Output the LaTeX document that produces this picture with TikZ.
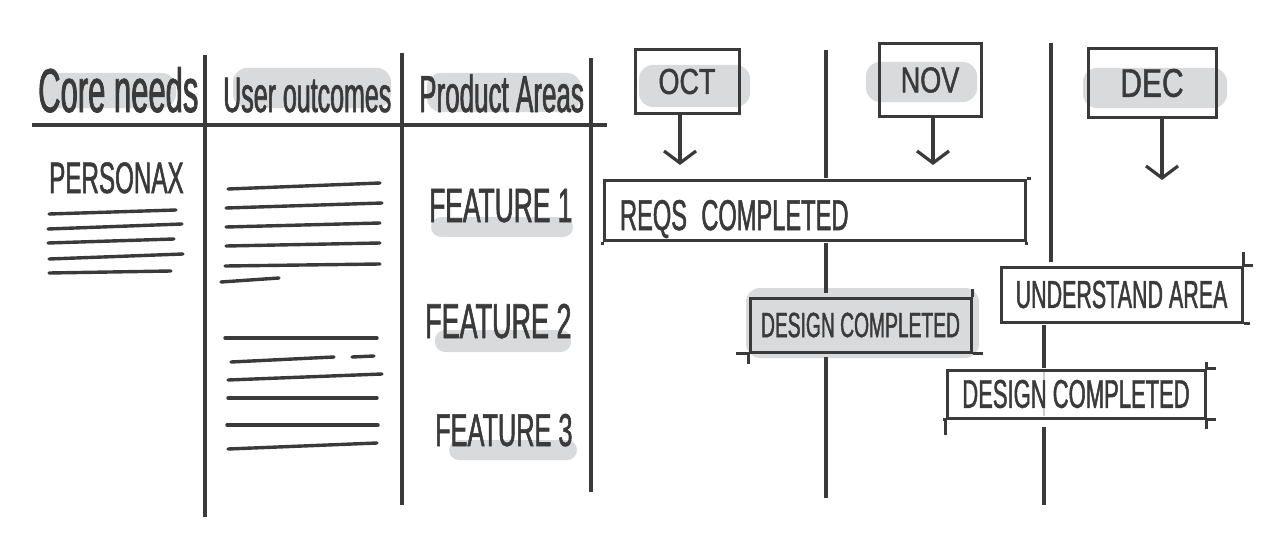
\documentclass[tikz,border=0pt]{standalone}
\usepackage{fontspec}
\usetikzlibrary{arrows.meta}
\newfontfamily\headfont[FakeStretch=0.5,FakeBold=1.2]{Liberation Sans}
\newfontfamily\capsfont[FakeStretch=0.55,FakeBold=1.2]{Liberation Sans}
\newfontfamily\monthfont[FakeStretch=0.75,FakeBold=1.2]{Liberation Sans}
\definecolor{ink}{HTML}{3A3A3A}
\definecolor{markgray}{HTML}{D9DADC}
\begin{document}
\begin{tikzpicture}[x=1pt,y=-1pt,>={Straight Barb[length=12pt,width=32pt]},
  rule/.style={draw=ink,line width=3.2pt},
  scribble/.style={draw=ink,line width=3.4pt,line cap=round},
  boxline/.style={draw=ink,line width=3pt},
  hilite/.style={fill=markgray,rounded corners=14pt},
  headtxt/.style={font=\headfont\fontsize{#1}{#1}\selectfont,text=ink,inner sep=0pt,anchor=base west},
  capstxt/.style={font=\capsfont\fontsize{#1}{#1}\selectfont,text=ink,inner sep=0pt,anchor=base west},
  taskbox/.style={boxline,text=ink,inner sep=0pt,font=\capsfont\fontsize{#1}{#1}\selectfont},
  monthbox/.style={boxline,text=ink,inner sep=0pt,font=\monthfont\fontsize{#1}{#1}\selectfont}]
  \useasboundingbox (0,0) rectangle (1283,543);
  \fill[white] (0,0) rectangle (1283,543);
  \fill[hilite] (42,73) rectangle (176,108);
  \fill[hilite] (233,68) rectangle (391,108);
  \fill[hilite] (427,73) rectangle (581,112);
  \fill[hilite,rounded corners=10pt] (431,217) rectangle (573,237);
  \fill[hilite,rounded corners=10pt] (435,330) rectangle (571,352);
  \fill[hilite,rounded corners=10pt] (449,440) rectangle (577,460);
  \fill[hilite] (639,65) rectangle (750,107);
  \fill[hilite] (866,62) rectangle (977,102);
  \fill[hilite] (1083,68) rectangle (1227,108);
  \fill[hilite] (746,288) rectangle (979,358);
  \draw[rule,line width=4pt] (32,125) -- (607,125);
  \draw[rule] (205,55) -- (205,517);
  \draw[rule] (402,53) -- (402,505);
  \draw[rule] (591,58) -- (591,492);
  \node[headtxt=62] (core) at (38,112) {Core needs};
  \node[headtxt=50] (outcomes) at (223,112) {User outcomes};
  \node[headtxt=52] (areas) at (419,112) {Product Areas};
  \node[capstxt=44] (persona) at (49,193) {PERSONAX};
  \draw[scribble] (49,214) -- (176,210);
  \draw[scribble] (48,229) -- (182,224);
  \draw[scribble] (48,243) -- (174,239);
  \draw[scribble] (49,259) -- (183,254);
  \draw[scribble] (49,273) -- (171,271);
  \draw[scribble] (228,189) -- (380,183);
  \draw[scribble] (226,208) -- (382,203);
  \draw[scribble] (226,227) -- (380,223);
  \draw[scribble] (226,246) -- (380,243);
  \draw[scribble] (225,266) -- (380,264);
  \draw[scribble] (221,282) -- (279,278);
  \draw[scribble] (225,338) -- (377,338);
  \draw[scribble] (231,362) -- (334,357);
  \draw[scribble] (352,357) -- (374,356);
  \draw[scribble] (228,380) -- (382,374);
  \draw[scribble] (228,398) -- (377,398);
  \draw[scribble] (227,425) -- (378,425);
  \draw[scribble] (228,449) -- (377,443);
  \node[capstxt=48] (feat1) at (429,222) {FEATURE 1};
  \node[capstxt=49] (feat2) at (425,338) {FEATURE 2};
  \node[capstxt=46] (feat3) at (435,446) {FEATURE 3};
  \draw[rule] (826,50) -- (826,178);
  \draw[rule] (826,243) -- (826,293);
  \draw[rule] (826,357) -- (826,498);
  \draw[rule] (1051,43) -- (1051,262);
  \draw[rule] (1044,325) -- (1044,368);
  \draw[black!20,line width=1.5pt] (1044,372) -- (1044,416);
  \draw[rule] (1044,427) -- (1044,505);
  \node[monthbox=36,minimum width=104pt,minimum height=63pt] (oct) at (687,81.5) {OCT};
  \node[monthbox=36,minimum width=102pt,minimum height=72pt] (nov) at (930,80) {NOV};
  \node[monthbox=40,minimum width=128pt,minimum height=68pt] (dec) at (1152,83) {DEC};
  \coordinate (octend) at (680,165);
  \coordinate (novend) at (933,165);
  \coordinate (decend) at (1162,180);
  \draw[rule,->] (oct.south -| octend) -- (octend);
  \draw[rule,->] (nov.south -| novend) -- (novend);
  \draw[rule,->] (dec.south -| decend) -- (decend);
  \node[taskbox=43,minimum width=421pt,minimum height=60pt,text width=389pt,align=left,text height=43pt,text depth=3pt] (reqs) at (814.5,210) {REQS COMPLETED};
  \node[taskbox=35,minimum width=221pt,minimum height=54pt] (designA) at (860.5,325) {DESIGN COMPLETED};
  \node[taskbox=39,minimum width=241pt,minimum height=55pt] (area) at (1121.5,294.5) {UNDERSTAND AREA};
  \node[taskbox=40,minimum width=258pt,minimum height=48pt] (designB) at (1076,394) {DESIGN COMPLETED};
  \draw[boxline] (reqs.north east) -- ++(4,0);
  \draw[boxline] (reqs.south west) -- ++(0,3);
  \draw[boxline] (reqs.south east) -- ++(0,3);
  \draw[boxline] (designA.south west) -- ++(-13,0);
  \draw[boxline] (designA.south east) -- ++(10,0);
  \draw[boxline] (designA.south west) -- ++(0,10);
  \draw[boxline] (designA.north east) -- ++(0,-8);
  \draw[boxline] (area.north east) -- ++(9,0);
  \draw[boxline] (area.north east) -- ++(0,-14);
  \draw[boxline] (area.south east) -- ++(6,0);
  \draw[boxline] (designB.north east) -- ++(9,0);
  \draw[boxline] (designB.north east) -- ++(0,-7);
  \draw[boxline] (designB.south east) -- ++(0,9);
  \draw[boxline] (designB.south east) -- ++(9,0);
  \draw[boxline] (designB.south west) -- ++(0,15);
  \draw[boxline] (designB.south west) -- ++(-3,0);
\end{tikzpicture}
\end{document}
